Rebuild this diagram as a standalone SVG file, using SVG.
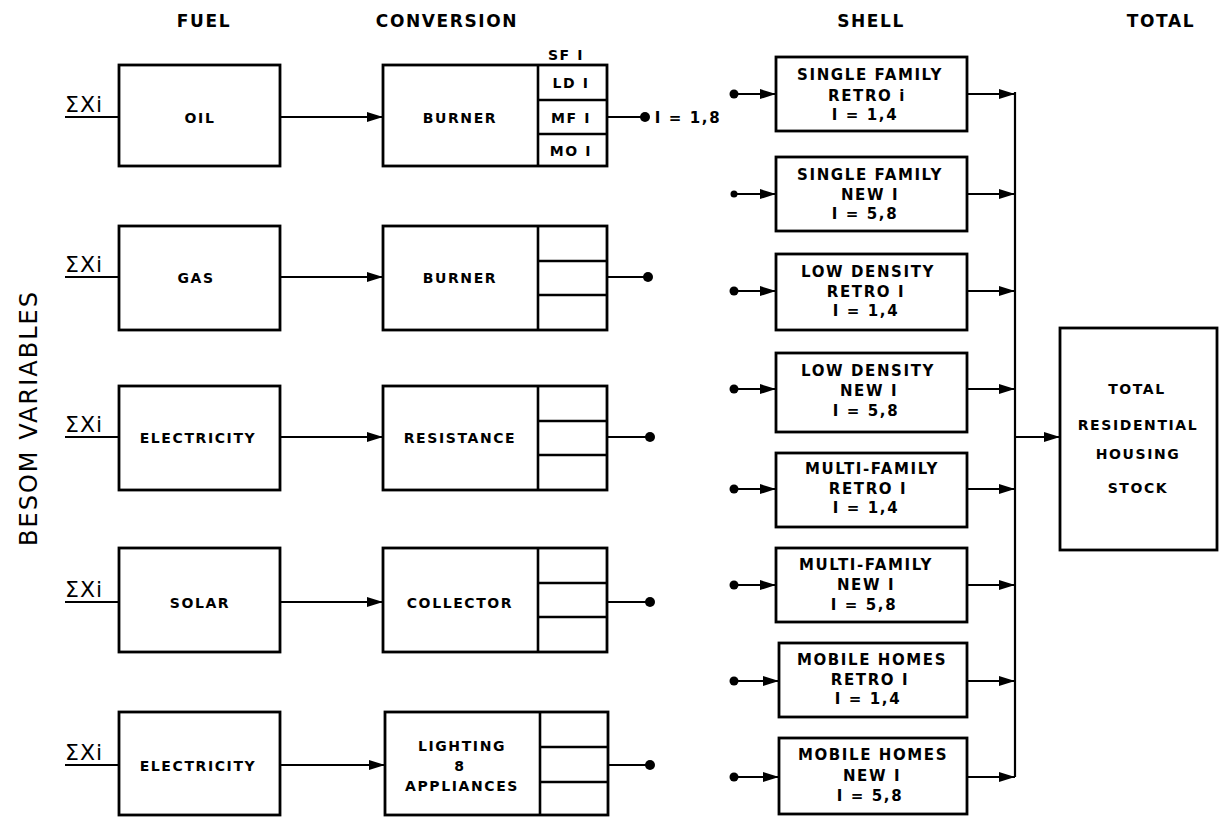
<svg xmlns="http://www.w3.org/2000/svg" width="1220" height="818" viewBox="0 0 1220 818">
<defs>
<marker id="ah" viewBox="0 0 16 11" refX="16" refY="5.5" markerWidth="16" markerHeight="11" markerUnits="userSpaceOnUse" orient="auto">
<path d="M0,0.5 L16,5.5 L0,10.5 Z" fill="#000"/>
</marker>
</defs>
<style>
.box{fill:#fff;stroke:#000;stroke-width:2.8}
.ln{fill:none;stroke:#000;stroke-width:2.2}
.t{font-family:"DejaVu Sans","Liberation Sans",sans-serif;font-weight:bold;font-size:14px;text-anchor:middle;dominant-baseline:central;letter-spacing:1.6px}
.s{font-size:15px;letter-spacing:1.6px}
.h{font-family:"DejaVu Sans","Liberation Sans",sans-serif;font-weight:bold;font-size:17px;text-anchor:middle;letter-spacing:1.6px}
.sx{font-family:"DejaVu Sans","Liberation Sans",sans-serif;font-size:22px;letter-spacing:1px}
.dot{fill:#000}
</style>
<rect width="1220" height="818" fill="#fff"/>
<g id="headers">
<text class="h" x="204" y="27">FUEL</text>
<text class="h" x="447" y="27">CONVERSION</text>
<text class="h" x="871" y="27">SHELL</text>
<text class="h" x="1161" y="27">TOTAL</text>
<text class="h" x="0" y="0" transform="translate(37,418) rotate(-90)" style="font-size:24px;font-weight:normal;letter-spacing:2px">BESOM VARIABLES</text>
</g>
<g id="inputs">
<text class="sx" x="65" y="112">ΣXi</text>
<text class="sx" x="65" y="272">ΣXi</text>
<text class="sx" x="65" y="432">ΣXi</text>
<text class="sx" x="65" y="597">ΣXi</text>
<text class="sx" x="65" y="760">ΣXi</text>
</g>
<g id="connectors">
<path class="ln" d="M65,117H119 M65,277H119 M65,437H119 M65,602H119 M65,765H119"/>
<path class="ln" marker-end="url(#ah)" d="M280,117H383"/>
<path class="ln" marker-end="url(#ah)" d="M280,277H383"/>
<path class="ln" marker-end="url(#ah)" d="M280,437H383"/>
<path class="ln" marker-end="url(#ah)" d="M280,602H383"/>
<path class="ln" marker-end="url(#ah)" d="M280,765H385"/>
<path class="ln" d="M607,117H645 M607,277H648 M607,437H650 M607,602H650 M608,765H650"/>
<circle class="dot" cx="645" cy="117" r="5"/>
<circle class="dot" cx="648" cy="277" r="5"/>
<circle class="dot" cx="650" cy="437" r="5"/>
<circle class="dot" cx="650" cy="602" r="5"/>
<circle class="dot" cx="650" cy="765" r="5"/>
<text class="t" x="688" y="118" style="font-size:15px">I = 1,8</text>
<g id="shell-inputs">
<path class="ln" marker-end="url(#ah)" d="M734,94H776"/>
<path class="ln" marker-end="url(#ah)" d="M734,194H776"/>
<path class="ln" marker-end="url(#ah)" d="M734,291H776"/>
<path class="ln" marker-end="url(#ah)" d="M734,389H776"/>
<path class="ln" marker-end="url(#ah)" d="M734,489H776"/>
<path class="ln" marker-end="url(#ah)" d="M734,585H776"/>
<path class="ln" marker-end="url(#ah)" d="M734,681H779"/>
<path class="ln" marker-end="url(#ah)" d="M734,777H779"/>
<circle class="dot" cx="734" cy="94" r="4.5"/>
<circle class="dot" cx="734" cy="194" r="3.5"/>
<circle class="dot" cx="734" cy="291" r="4.5"/>
<circle class="dot" cx="734" cy="389" r="4.5"/>
<circle class="dot" cx="734" cy="489" r="4.5"/>
<circle class="dot" cx="734" cy="585" r="4.5"/>
<circle class="dot" cx="734" cy="681" r="4.5"/>
<circle class="dot" cx="734" cy="777" r="4.5"/>
</g>
<path class="ln" d="M1015,92V777"/>
<path class="ln" marker-end="url(#ah)" d="M967,94H1015"/>
<path class="ln" marker-end="url(#ah)" d="M967,194H1015"/>
<path class="ln" marker-end="url(#ah)" d="M967,291H1015"/>
<path class="ln" marker-end="url(#ah)" d="M967,389H1015"/>
<path class="ln" marker-end="url(#ah)" d="M967,489H1015"/>
<path class="ln" marker-end="url(#ah)" d="M967,585H1015"/>
<path class="ln" marker-end="url(#ah)" d="M967,681H1015"/>
<path class="ln" marker-end="url(#ah)" d="M967,777H1015"/>
<path class="ln" marker-end="url(#ah)" d="M1015,437H1060"/>
</g>
<g id="fuel-oil"><rect class="box" x="119" y="65" width="161" height="101"/><text class="t" x="200" y="118">OIL</text></g>
<g id="fuel-gas"><rect class="box" x="119" y="226" width="161" height="104"/><text class="t" x="196" y="278">GAS</text></g>
<g id="fuel-elec1"><rect class="box" x="119" y="386" width="161" height="104"/><text class="t" x="198" y="438">ELECTRICITY</text></g>
<g id="fuel-solar"><rect class="box" x="119" y="548" width="161" height="104"/><text class="t" x="200" y="603">SOLAR</text></g>
<g id="fuel-elec2"><rect class="box" x="119" y="712" width="161" height="103"/><text class="t" x="198" y="766">ELECTRICITY</text></g>
<g id="conv-burner-oil">
<rect class="box" x="383" y="65" width="224" height="101"/>
<path class="ln" d="M538,65V166 M538,100H607 M538,134H607" style="stroke-width:2.6"/>
<text class="t" x="460" y="118">BURNER</text>
<text class="t" x="566" y="55" style="font-size:14px">SF I</text>
<text class="t" x="571" y="83" style="font-size:14px">LD I</text>
<text class="t" x="571" y="118" style="font-size:14px">MF I</text>
<text class="t" x="571" y="151" style="font-size:14px">MO I</text>
</g>
<g id="conv-burner-gas">
<rect class="box" x="383" y="226" width="224" height="104"/>
<path class="ln" d="M538,226V330 M538,261H607 M538,295H607" style="stroke-width:2.6"/>
<text class="t" x="460" y="278">BURNER</text>
</g>
<g id="conv-resistance">
<rect class="box" x="383" y="386" width="224" height="104"/>
<path class="ln" d="M538,386V490 M538,421H607 M538,455H607" style="stroke-width:2.6"/>
<text class="t" x="460" y="438">RESISTANCE</text>
</g>
<g id="conv-collector">
<rect class="box" x="383" y="548" width="224" height="104"/>
<path class="ln" d="M538,548V652 M538,583H607 M538,617H607" style="stroke-width:2.6"/>
<text class="t" x="460" y="603">COLLECTOR</text>
</g>
<g id="conv-lighting">
<rect class="box" x="385" y="712" width="223" height="103"/>
<path class="ln" d="M540,712V815 M540,747H608 M540,782H608" style="stroke-width:2.6"/>
<text class="t" x="462" y="746">LIGHTING</text>
<text class="t" x="460" y="766">8</text>
<text class="t" x="462" y="786">APPLIANCES</text>
</g>
<g id="shell-sf-retro"><rect class="box" x="776" y="57" width="191" height="74"/>
<text class="t s" x="870" y="75">SINGLE FAMILY</text><text class="t s" x="867" y="96">RETRO i</text><text class="t s" x="865" y="115">I = 1,4</text></g>
<g id="shell-sf-new"><rect class="box" x="776" y="157" width="191" height="74"/>
<text class="t s" x="870" y="175">SINGLE FAMILY</text><text class="t s" x="870" y="195">NEW I</text><text class="t s" x="865" y="214">I = 5,8</text></g>
<g id="shell-ld-retro"><rect class="box" x="776" y="254" width="191" height="76"/>
<text class="t s" x="868" y="272">LOW DENSITY</text><text class="t s" x="866" y="292">RETRO I</text><text class="t s" x="866" y="311">I = 1,4</text></g>
<g id="shell-ld-new"><rect class="box" x="776" y="353" width="191" height="79"/>
<text class="t s" x="868" y="371">LOW DENSITY</text><text class="t s" x="869" y="391">NEW I</text><text class="t s" x="866" y="411">I = 5,8</text></g>
<g id="shell-mf-retro"><rect class="box" x="776" y="453" width="191" height="74"/>
<text class="t s" x="872" y="469">MULTI-FAMILY</text><text class="t s" x="868" y="489">RETRO I</text><text class="t s" x="866" y="508">I = 1,4</text></g>
<g id="shell-mf-new"><rect class="box" x="776" y="548" width="191" height="74"/>
<text class="t s" x="866" y="565">MULTI-FAMILY</text><text class="t s" x="866" y="585">NEW I</text><text class="t s" x="864" y="605">I = 5,8</text></g>
<g id="shell-mh-retro"><rect class="box" x="779" y="643" width="188" height="74"/>
<text class="t s" x="872" y="660">MOBILE HOMES</text><text class="t s" x="870" y="680">RETRO I</text><text class="t s" x="868" y="699">I = 1,4</text></g>
<g id="shell-mh-new"><rect class="box" x="779" y="738" width="188" height="76"/>
<text class="t s" x="873" y="755">MOBILE HOMES</text><text class="t s" x="872" y="776">NEW I</text><text class="t s" x="870" y="796">I = 5,8</text></g>
<g id="total"><rect class="box" x="1060" y="328" width="157" height="222"/>
<text class="t" x="1137" y="389">TOTAL</text><text class="t" x="1138" y="425">RESIDENTIAL</text><text class="t" x="1138" y="454">HOUSING</text><text class="t" x="1138" y="488">STOCK</text></g>
</svg>
